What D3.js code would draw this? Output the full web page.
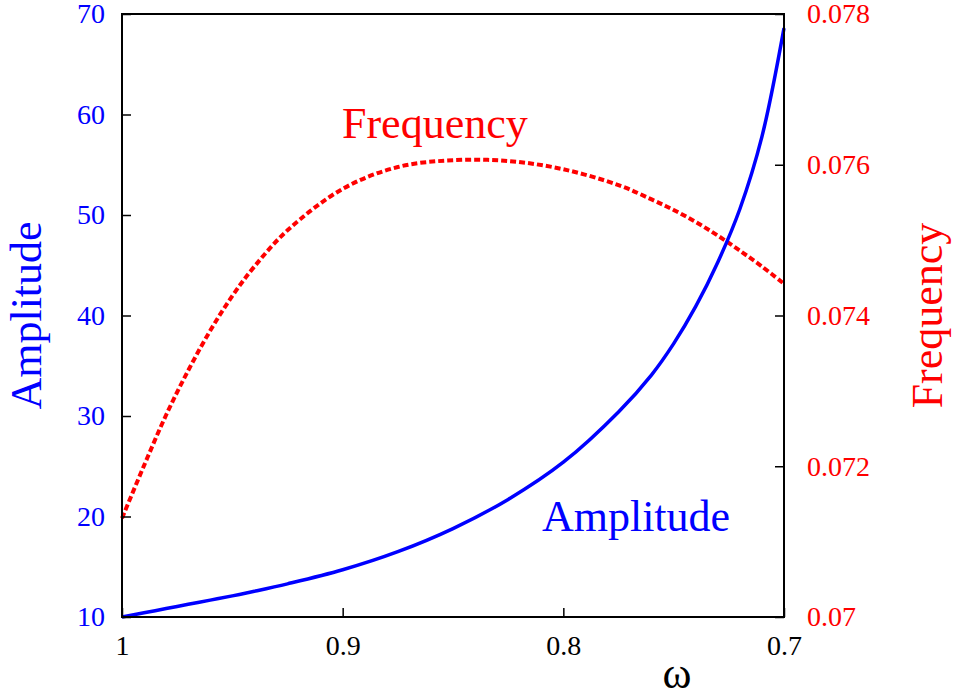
<!DOCTYPE html>
<html>
<head>
<meta charset="utf-8">
<script src="https://cdn.jsdelivr.net/npm/d3@7"></script>
<style>
  body { margin: 0; background: #fff; }
  svg { display: block; font-family: "Liberation Serif", "Times New Roman", serif; }
</style>
</head>
<body>
<svg class="chart"></svg>
<script>
// data
const OMEGA = [1.0, 0.99, 0.98, 0.97, 0.96, 0.95, 0.94, 0.925, 0.9, 0.875, 0.85, 0.825,
               0.8, 0.775, 0.76, 0.75, 0.74, 0.73, 0.72, 0.71, 0.7];
const AMPLITUDE = [10.0, 10.42, 10.84, 11.26, 11.68, 12.1, 12.56, 13.3, 14.7, 16.5, 18.8, 21.7,
                   25.4, 30.4, 34.1, 37.2, 40.9, 45.3, 50.6, 57.8, 68.6];
const FREQUENCY = [0.07131, 0.07201, 0.07268, 0.07327, 0.07380, 0.07426, 0.07465, 0.07513,
                   0.07568, 0.07597, 0.07606, 0.07605, 0.07594, 0.07573, 0.07554, 0.07540,
                   0.07524, 0.07506, 0.07486, 0.07465, 0.07442];

const X_TICKS = [1, 0.9, 0.8, 0.7];
const Y_TICKS = [10, 20, 30, 40, 50, 60, 70];
const Y2_TICKS = [0.07, 0.072, 0.074, 0.076, 0.078];

const WIDTH = 957, HEIGHT = 699;
const MARGINS = { top: 14, right: 173, bottom: 82, left: 122 };
const PLOT_W = WIDTH - MARGINS.left - MARGINS.right;
const PLOT_H = HEIGHT - MARGINS.top - MARGINS.bottom;

const BLUE = "#0000ff", RED = "#ff0000";

const svg = d3.select(".chart").attr("width", WIDTH).attr("height", HEIGHT);
const g = svg.append("g").attr("transform", `translate(${MARGINS.left},${MARGINS.top})`);

const x = d3.scaleLinear().domain([1, 0.7]).range([0, PLOT_W]);
const y = d3.scaleLinear().domain([10, 70]).range([PLOT_H, 0]);
const y2 = d3.scaleLinear().domain([0.07, 0.078]).range([PLOT_H, 0]);

const rows = OMEGA.map((w, i) => ({ w: w, a: AMPLITUDE[i], f: FREQUENCY[i] }));

// curves
g.append("path").datum(rows)
  .attr("fill", "none").attr("stroke", RED).attr("stroke-width", 4)
  .attr("stroke-dasharray", "6,3")
  .attr("d", d3.line().x(d => x(d.w)).y(d => y2(d.f)).curve(d3.curveCatmullRom.alpha(0.5)));

g.append("path").datum(rows)
  .attr("fill", "none").attr("stroke", BLUE).attr("stroke-width", 3.5)
  .attr("d", d3.line().x(d => x(d.w)).y(d => y(d.a)).curve(d3.curveCatmullRom.alpha(0.5)));

// axes, ticks pointing inward
const xAxis = g.append("g").attr("transform", `translate(0,${PLOT_H})`)
  .call(d3.axisBottom(x).tickValues(X_TICKS).tickSizeInner(-9).tickSizeOuter(0).tickPadding(18)
    .tickFormat(d3.format("")));
const yAxis = g.append("g")
  .call(d3.axisLeft(y).tickValues(Y_TICKS).tickSizeInner(-9).tickSizeOuter(0).tickPadding(17));
const y2Axis = g.append("g").attr("transform", `translate(${PLOT_W},0)`)
  .call(d3.axisRight(y2).tickValues(Y2_TICKS).tickSizeInner(-9).tickSizeOuter(0).tickPadding(23)
    .tickFormat(d3.format("")));

[xAxis, yAxis, y2Axis].forEach(a => {
  a.select(".domain").remove();
  a.selectAll(".tick line").attr("stroke", "#000").attr("stroke-width", 1.5);
  a.selectAll(".tick text").attr("font-family", "Liberation Serif").attr("font-size", 28);
});
xAxis.selectAll(".tick text").attr("fill", "#000");
yAxis.selectAll(".tick text").attr("fill", BLUE);
y2Axis.selectAll(".tick text").attr("fill", RED);

// border
g.append("rect").attr("width", PLOT_W).attr("height", PLOT_H)
  .attr("fill", "none").attr("stroke", "#000").attr("stroke-width", 2);

// labels
svg.append("text").attr("transform", `translate(41,${MARGINS.top + PLOT_H / 2}) rotate(-90)`)
  .attr("text-anchor", "middle").attr("font-size", 44).attr("fill", BLUE).text("Amplitude");
svg.append("text").attr("transform", `translate(942,${MARGINS.top + PLOT_H / 2}) rotate(-90)`)
  .attr("text-anchor", "middle").attr("font-size", 44).attr("fill", RED).text("Frequency");
svg.append("text").attr("x", 677).attr("y", 688)
  .attr("text-anchor", "middle").attr("font-size", 44).attr("fill", "#000").text("ω");

// in-plot curve labels
g.append("text").attr("x", x(0.9003)).attr("y", y2(0.07635))
  .attr("font-size", 44).attr("fill", RED).text("Frequency");
g.append("text").attr("x", x(0.8097)).attr("y", y(18.56))
  .attr("font-size", 44).attr("fill", BLUE).text("Amplitude");
</script>
</body>
</html>
